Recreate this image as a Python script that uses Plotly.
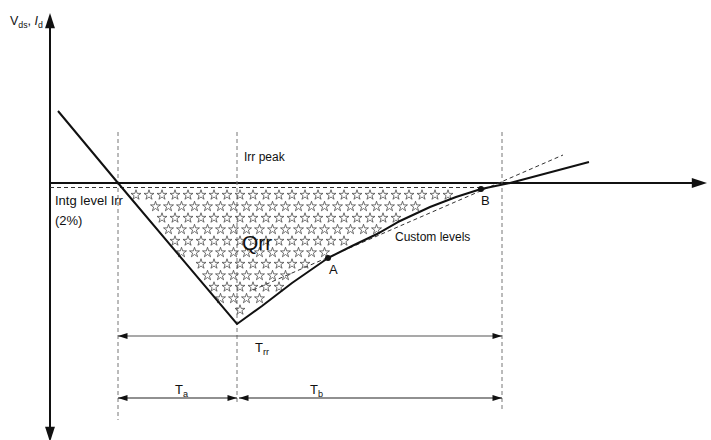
import plotly.graph_objects as go

# ---- data (time t, current i; schematic units) ----
curve_t = [0.8, 6.8, 18.7, 21.2, 24.2, 27.8, 30.2, 32.7, 35.0, 38.0, 40.6, 43.1, 46.0, 53.9]
curve_i = [7.2, 0.0, -14.1, -12.3, -10.0, -7.5, -6.3, -5.1, -3.8, -2.4, -1.4, -0.6, 0.0, 2.1]

point_names = ["A", "B"]
point_t = [27.8, 43.1]
point_i = [-7.5, -0.6]

custom_t = [20.3, 51.3]
custom_i = [-10.7, 2.8]

intg_level = -0.45
intg_t = [0.0, 43.1]

t_start, t_peak, t_end = 6.8, 18.7, 45.2
vline_top = 5.1
vline_bottom = [-23.7, -22.0, -22.9]

trr_level = -15.3
tab_level = -21.5

axis_x_end = 65.7
axis_y_top = 17.0
axis_y_bottom = -25.9

BLACK = "#111111"
GRAY = "#777777"
FONT = "Liberation Sans"

fig = go.Figure()

# axes lines
fig.add_trace(go.Scatter(x=[0, axis_x_end - 1.2], y=[0, 0], mode="lines",
                         line=dict(color=BLACK, width=2), hoverinfo="skip"))
fig.add_trace(go.Scatter(x=[0, 0], y=[axis_y_bottom + 1.2, axis_y_top - 1.2], mode="lines",
                         line=dict(color=BLACK, width=2), hoverinfo="skip"))
fig.add_trace(go.Scatter(x=[axis_x_end, 0, 0], y=[0, axis_y_top, axis_y_bottom], mode="markers",
                         marker=dict(symbol="arrow", size=16, color=BLACK, angle=[90, 0, 180],
                                     line=dict(width=0)), hoverinfo="skip"))

# dashed verticals
for tv, yb in zip([t_start, t_peak, t_end], vline_bottom):
    fig.add_trace(go.Scatter(x=[tv, tv], y=[vline_top, yb], mode="lines",
                             line=dict(color=GRAY, width=1, dash="4px,3px"), hoverinfo="skip"))

# integration level dashed
fig.add_trace(go.Scatter(x=intg_t, y=[intg_level, intg_level], mode="lines",
                         line=dict(color="#333333", width=1, dash="4px,3px"), hoverinfo="skip"))

# custom levels dashed
fig.add_trace(go.Scatter(x=custom_t, y=custom_i, mode="lines",
                         line=dict(color="#333333", width=1, dash="4px,3px"), hoverinfo="skip"))

# star fill texture inside the Qrr region
poly = [(7.2, intg_level)] + list(zip(curve_t[2:12], curve_i[2:12]))


def inside(px, py):
    c = False
    n = len(poly)
    for k in range(n):
        x1, y1 = poly[k]
        x2, y2 = poly[(k + 1) % n]
        if (y1 > py) != (y2 > py):
            xc = x1 + (py - y1) * (x2 - x1) / (y2 - y1)
            if px < xc:
                c = not c
    return c


star_t, star_i = [], []
row = 0
yv = -1.2
while yv > -14.5:
    xv = 7.3 + (0.65 if row % 2 else 0.0)
    while xv < 44:
        m = 0.45
        if all(inside(xv + dx, yv + dy) for dx, dy in [(m, 0), (-m, 0), (0, m), (0, -m)]):
            star_t.append(xv)
            star_i.append(yv)
        xv += 1.3
    yv -= 1.15
    row += 1

fig.add_trace(go.Scatter(x=star_t, y=star_i, mode="markers",
                         marker=dict(symbol="star-open", size=7.5, color="#444444",
                                     line=dict(width=0.75)), hoverinfo="skip"))

# main curve
fig.add_trace(go.Scatter(x=curve_t, y=curve_i, mode="lines",
                         line=dict(color=BLACK, width=2), hoverinfo="skip"))

# points A, B
fig.add_trace(go.Scatter(x=point_t, y=point_i, mode="markers",
                         marker=dict(size=6, color=BLACK), hoverinfo="skip"))

# dimension lines
dims = [
    ([t_start, t_end], trr_level, "#555555"),
    ([t_start, t_peak], tab_level, "#222222"),
    ([t_peak + 0.2, t_end], tab_level, "#222222"),
]
for xs, yl, col in dims:
    fig.add_trace(go.Scatter(x=xs, y=[yl, yl], mode="lines+markers",
                             line=dict(color=col, width=1.2),
                             marker=dict(symbol="arrow", size=10, color="#111111",
                                         angle=[270, 90], line=dict(width=0)),
                             hoverinfo="skip"))

# texts
def txt(x, y, s, size=12, xanchor="left", color="#111111"):
    fig.add_annotation(x=x, y=y, text=s, showarrow=False, xanchor=xanchor, yanchor="middle",
                       font=dict(family=FONT, size=size, color=color))


txt(-4.2, 16.1, "V<sub>ds</sub>, <i>I</i><sub>d</sub>", 12.5)
txt(19.2, 2.6, "Irr peak", 12)
txt(0.3, -1.7, "Intg level Irr", 13)
txt(0.3, -3.7, "(2%)", 13)
txt(20.7, -5.9, "Qrr", 21, xanchor="center")
txt(28.3, -8.6, point_names[0], 13, xanchor="center")
txt(43.5, -1.7, point_names[1], 13, xanchor="center")
txt(34.3, -5.4, "Custom levels", 12)
txt(20.3, -16.5, "T<sub>rr</sub>", 13)
txt(12.3, -20.7, "T<sub>a</sub>", 13)
txt(25.8, -20.7, "T<sub>b</sub>", 13)
txt(55.3, -25.8, "1380-032", 9, xanchor="center", color="#666666")

fig.update_layout(
    width=711, height=440,
    margin=dict(l=0, r=0, t=0, b=0),
    paper_bgcolor="white", plot_bgcolor="white",
    showlegend=False,
    xaxis=dict(range=[-5.0, 66.1], visible=False, fixedrange=True),
    yaxis=dict(range=[-25.7, 18.3], visible=False, fixedrange=True),
)

fig.write_html("out.html", config={"displayModeBar": False},
               post_script="document.body.style.margin='0px';document.body.style.overflow='hidden';")
